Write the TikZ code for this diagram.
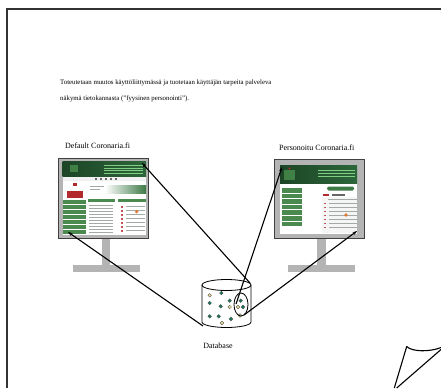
\documentclass[tikz,border=0pt]{standalone}
\usepackage{fontspec}
\setmainfont{Liberation Serif}
\usetikzlibrary{arrows.meta,shapes.geometric}
\definecolor{framegray}{HTML}{333333}
\definecolor{bezel}{HTML}{B4B4B4}
\definecolor{bezeledge}{HTML}{404040}
\definecolor{hdrdark}{HTML}{1C4526}
\definecolor{hdrlight}{HTML}{2D663A}
\definecolor{menugreen}{HTML}{4A8A4E}
\definecolor{bandgreen}{HTML}{3D7A45}
\definecolor{logored}{HTML}{B22A2E}
\definecolor{txtgray}{HTML}{A3AAA5}
\definecolor{dotgreen}{HTML}{157A5E}
\definecolor{dotyellow}{HTML}{E6DC96}
\definecolor{calorange}{HTML}{E07A30}
\tikzset{
  bezelbox/.style={fill=bezel, draw=bezeledge, line width=0.8pt},
  standpart/.style={fill=bezel},
  screenbox/.style={fill=white, draw=none, inner sep=0pt, anchor=north west},
  caption/.style={font=\fontsize{8}{9}\selectfont, inner sep=0pt},
  link/.style={line width=1.1pt, black},
  tipped/.style={link, -{Stealth[length=4.5pt, width=3.2pt]}},
  menubtn/.style={fill=menugreen},
  txtline/.style={draw=txtgray, line width=0.6pt},
  dotg/.style={fill=dotgreen, draw=black!70, line width=0.3pt},
  doty/.style={fill=dotyellow, draw=black!70, line width=0.3pt},
  curl/.style={line width=1.1pt, black, line join=round},
}
\begin{document}
\begin{tikzpicture}[x=1pt, y=-1pt]
\useasboundingbox (0,0) rectangle (441,388);
\fill[white] (0,0) rectangle (441,388);

% page frame
\draw[framegray, line width=2pt] (6.5,388) -- (6.5,9) -- (441,9);

% introduction text
\node[anchor=north west, align=left, inner sep=0pt,
      font=\fontsize{6.8}{16.3}\selectfont] (intro) at (60,79.5)
  {Toteutetaan muutos käyttöliittymässä ja tuotetaan käyttäjän tarpeita palveleva\\
   näkymä tietokannasta (”fyysinen personointi”).};

% ---------------- left monitor ----------------
\node[caption, anchor=base west] (lcap) at (65,148) {Default Coronaria.fi};
\fill[standpart] (102,238) rectangle (110,265);
\fill[standpart] (73,265) rectangle (140,272);
\draw[bezelbox] (58.3,158.3) rectangle (148.3,238.3);
\node[screenbox, minimum width=83.3pt, minimum height=73.3pt] (lscr) at (62.7,161.7) {};
% header
\shade[left color=hdrdark, right color=hdrlight] (62.7,161.7) rectangle (146,176.5);
\foreach \y in {165.5,168,170.5,173}
  \draw[green!35!white, line width=0.5pt, opacity=0.7] (104,\y) -- (143,\y);
\fill[green!30!gray, opacity=0.6] (70,165) rectangle (78,172);
% navigation strip
\fill[gray!12] (62.7,176.5) rectangle (146,181);
\foreach \x in {95,100,105,110,115}
  \fill[black!60] (\x,177.8) rectangle ++(2,2);
% left column: logo and menu
\fill[logored] (73,183) rectangle (77,186);
\fill[logored] (67,191) rectangle (83,198);
\foreach \i in {0,...,6}
  \fill[menugreen] (63.2,{200+\i*5}) rectangle (86,{204+\i*5});
% main area
\shade[left color=white, right color=bandgreen] (105,185) rectangle (146,193);
\draw[txtline] (90,186.5) -- (104,186.5);
\draw[txtline] (90,189.5) -- (100,189.5);
\fill[menugreen] (88,199) rectangle (115,202);
\fill[menugreen] (118,199) rectangle (146,202);
\foreach \y in {205,208,...,232}
  \draw[txtline] (89,\y) -- (113,\y);
\foreach \y in {206,210,...,230}
  \fill[logored!80] (120.5,\y) rectangle ++(2.5,1.5);
\foreach \y in {206,210,...,230}
  \draw[txtline] (126,{\y+0.7}) -- (145,{\y+0.7});
\fill[calorange] (136.7,211.7) circle (1.8);

% ---------------- right monitor ----------------
\node[caption, anchor=base west] (rcap) at (279,150) {Personoitu Coronaria.fi};
\fill[standpart] (317,238) rectangle (326,265);
\fill[standpart] (288,265) rectangle (355,272);
\draw[bezelbox] (274,159.3) rectangle (364,238.3);
\node[screenbox, minimum width=77pt, minimum height=68.3pt] (rscr) at (280,165) {};
% header
\shade[left color=hdrdark, right color=hdrlight] (280,165) rectangle (357,183);
\foreach \y in {170,173,176.5}
  \draw[green!35!white, line width=0.6pt, opacity=0.7] (318,\y) -- (355,\y);
\fill[green!30!gray, opacity=0.6] (284,170) rectangle (295,180);
\fill[logored] (289.5,168.5) circle (1.2);
% menu
\foreach \i in {0,...,6}
  \fill[menugreen] (281.5,{188+\i*5.6}) rectangle (302,{192.5+\i*5.6});
% right column
\fill[gray!8] (322,197) rectangle (357,233);
\fill[bandgreen, rounded corners=1.5pt] (327,186.5) rectangle (354,190.5);
\fill[logored] (323,193.8) rectangle (329,195.6);
\fill[black!60] (332,193.8) rectangle (345,195.6);
\draw[txtline] (328,199) -- (357,199);
\foreach \y in {203,207,...,227}
  \fill[logored!80] (323.5,\y) rectangle ++(2,1.4);
\foreach \y in {203,207,...,227}
  \draw[txtline] (329,{\y+0.7}) -- (357,{\y+0.7});
\fill[calorange] (346,215) circle (1.8);

% ---------------- database ----------------
\draw[line width=0.8pt, fill=white]
  (202,285) -- (202,322) arc[start angle=180, end angle=0, x radius=24.5, y radius=5.5] -- (251,285);
\draw[line width=0.8pt] (226.5,285) ellipse [x radius=24.5, y radius=5.5];
\node[caption, anchor=base] (dbcap) at (218,348) {Database};
% records
\foreach \p in {(221.3,293),(209.7,303),(220.7,306.3),(229.7,300.7),(240.7,300.7),
                (243,307),(209.7,316.3),(218.7,316.3),(231,319)}
  \draw[dotg] \p circle (1.8);
\foreach \p in {(209.7,295.3),(229.7,307),(238,307),(240,315.5),(222,323)}
  \draw[doty] \p circle (1.8);
% selected subset
\node[draw, ellipse, line width=0.8pt, minimum width=14pt, minimum height=23pt, inner sep=0pt]
  (subset) at (241,304.5) {};

% connection points
\coordinate (lscrTR) at (142,163);
\coordinate (lscrBL) at (68,232);
\coordinate (rscrTL) at (282,167);
\coordinate (rscrBR) at (357,231);
\coordinate (dbTop) at (250,283);
\coordinate (dbBottom) at (203,326);
\coordinate (subIn) at (236,304);
\coordinate (subOut) at (244,315);

% connectors
\draw[tipped] (dbTop) -- (lscrTR);
\draw[tipped] (dbBottom) -- (lscrBL);
\draw[tipped] (subIn) -- (rscrTL);
\draw[tipped] (subOut) -- (rscrBR);

% turned-up page corner
\draw[curl] (394.3,388) -- (406.7,346.5)
  .. controls (412,352) and (430,352) .. (441,347.5);
\draw[curl] (396.7,388) -- (441,349.5);
\end{tikzpicture}
\end{document}
